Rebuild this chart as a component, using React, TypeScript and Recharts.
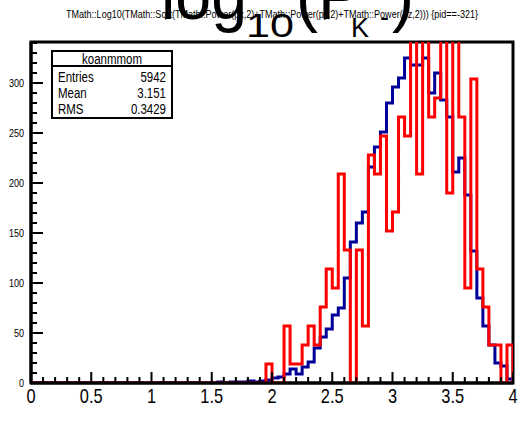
import { LineChart, Line, XAxis, YAxis, ReferenceArea } from "recharts";

const sans = "'Liberation Sans', Arial, sans-serif";

// 80 bins of 0.05 between 0 and 4
const binWidth = 0.05;

const blueCounts = [
  0, 0, 0, 0, 0, 0, 0, 0, 0, 0,
  0, 0, 0, 0, 0, 0, 0, 0, 0, 0,
  0, 0, 0, 0, 0, 0, 0, 0, 0, 0,
  0, 1, 0, 1, 1, 1, 2, 1, 2, 3,
  5, 6, 9, 14, 9, 16, 21, 35, 46, 54,
  68, 75, 105, 141, 160, 171, 216, 236, 251, 280,
  296, 305, 325, 318, 318, 325, 290, 310, 283, 266,
  211, 225, 188, 132, 85, 57, 38, 20, 17, 4,
];

const redCounts = [
  0, 0, 0, 0, 0, 0, 0, 0, 0, 0,
  0, 0, 0, 0, 0, 0, 0, 0, 0, 0,
  0, 0, 0, 0, 0, 0, 0, 0, 0, 0,
  0, 0, 0, 0, 0, 0, 0, 0, 0, 19,
  0, 0, 57, 19, 19, 38, 57, 38, 76, 114,
  95, 209, 133, 0, 133, 57, 228, 209, 247, 152,
  171, 266, 247, 361, 209, 361, 266, 285, 361, 190,
  361, 266, 95, 304, 114, 76, 38, 38, 0, 38,
];

const xLabels = [0, 0.5, 1, 1.5, 2, 2.5, 3, 3.5, 4];
const yLabels = [0, 50, 100, 150, 200, 250, 300];
const yMax = 341;

const xTicks = Array.from({ length: 41 }, (_, i) => i / 10);
const yTicks = Array.from({ length: 35 }, (_, i) => i * 10);

const stats = [
  { name: "Entries", value: "5942" },
  { name: "Mean", value: "3.151" },
  { name: "RMS", value: "0.3429" },
];

// step data at the bin low edges, closed at x = 4
const data = blueCounts.map((b, i) => ({
  x: Math.round(i * binWidth * 100) / 100,
  blue: b,
  red: redCounts[i],
}));
data.push({ x: 4, blue: blueCounts[79], red: redCounts[79] });
data.push({ x: 4, blue: 0, red: 0 });

// ROOT draws Helvetica narrow-ish, squeeze Liberation Sans to match
const Narrow = ({ x, y, size, anchor = "start", children }: any) => (
  <text
    transform={`translate(${x},${y}) scale(0.82,1)`}
    textAnchor={anchor}
    fontSize={size}
    fontFamily={sans}
    fill="#000"
  >
    {children}
  </text>
);

const XTick = (props: any) => {
  const { x, y, payload } = props;
  const v = payload.value;
  const major = xLabels.some((l) => Math.abs(l - v) < 1e-6);
  return (
    <g>
      <line x1={x} x2={x} y1={y} y2={y - (major ? 11 : 6)} stroke="#000" strokeWidth={2} />
      {major && (
        <Narrow x={x} y={y + 20} size={20} anchor="middle">
          {String(v)}
        </Narrow>
      )}
    </g>
  );
};

const YTick = (props: any) => {
  const { x, y, payload } = props;
  const v = payload.value;
  const major = yLabels.includes(v);
  return (
    <g>
      <line x1={x} x2={x + (major ? 12 : 6)} y1={y} y2={y} stroke="#000" strokeWidth={2} />
      {major && (
        <Narrow x={x - 7} y={y + 4} size={11} anchor="end">
          {v}
        </Narrow>
      )}
    </g>
  );
};

export default function App() {
  return (
    <div style={{ position: "relative", width: 520, height: 434, background: "#fff" }}>
      <style>{"body{margin:0}"}</style>
      <LineChart
        width={520}
        height={434}
        data={data}
        margin={{ top: 42, right: 7, bottom: 0, left: 0 }}
      >
        <XAxis
          type="number"
          dataKey="x"
          domain={[0, 4]}
          ticks={xTicks}
          interval={0}
          allowDataOverflow
          height={51}
          tickSize={0}
          tickMargin={0}
          tickLine={false}
          axisLine={{ stroke: "#000", strokeWidth: 3 }}
          tick={<XTick />}
        />
        <YAxis
          type="number"
          domain={[0, yMax]}
          ticks={yTicks}
          interval={0}
          allowDataOverflow
          width={31}
          tickSize={0}
          tickMargin={0}
          tickLine={false}
          axisLine={{ stroke: "#000", strokeWidth: 3 }}
          tick={<YTick />}
        />
        <ReferenceArea
          x1={0}
          x2={4}
          y1={0}
          y2={yMax}
          fill="none"
          stroke="#000"
          strokeWidth={3}
          ifOverflow="visible"
        />
        <Line
          type="stepAfter"
          dataKey="blue"
          stroke="#000099"
          strokeWidth={3}
          dot={false}
          activeDot={false}
          strokeLinejoin="miter"
          isAnimationActive={false}
        />
        <Line
          type="stepAfter"
          dataKey="red"
          stroke="#ff0000"
          strokeWidth={3}
          dot={false}
          activeDot={false}
          strokeLinejoin="miter"
          isAnimationActive={false}
        />
      </LineChart>
      <svg
        width={520}
        height={434}
        style={{ position: "absolute", left: 0, top: 0, pointerEvents: "none" }}
      >
        <text x={66} y={18} fontSize={11} fontFamily={sans} textLength={412} lengthAdjust="spacingAndGlyphs" fill="#000">
          {"TMath::Log10(TMath::Sqrt(TMath::Power(px,2)+TMath::Power(py,2)+TMath::Power(pz,2))) {pid==-321}"}
        </text>
        <g fontFamily={sans} fill="#000">
          <text x={161} y={19} fontSize={66} textLength={86} lengthAdjust="spacingAndGlyphs">log</text>
          <text x={246} y={37} fontSize={34} textLength={48} lengthAdjust="spacingAndGlyphs">10</text>
          <text x={296} y={19} fontSize={66}>(</text>
          <text x={318} y={19} fontSize={66}>P</text>
          <text x={351} y={37} fontSize={27}>K</text>
          <text x={380} y={26} fontSize={27}>-</text>
          <text x={392} y={19} fontSize={66}>)</text>
        </g>
        <rect x={52} y={51} width={120} height={67} fill="#fff" stroke="#000" strokeWidth={2} />
        <line x1={52} x2={172} y1={66} y2={66} stroke="#000" strokeWidth={2} />
        <Narrow x={112} y={64} size={14} anchor="middle">
          koanmmom
        </Narrow>
        {stats.map((s, i) => (
          <g key={s.name}>
            <Narrow x={58} y={82 + i * 16} size={14}>
              {s.name}
            </Narrow>
            <Narrow x={166} y={82 + i * 16} size={14} anchor="end">
              {s.value}
            </Narrow>
          </g>
        ))}
      </svg>
    </div>
  );
}
